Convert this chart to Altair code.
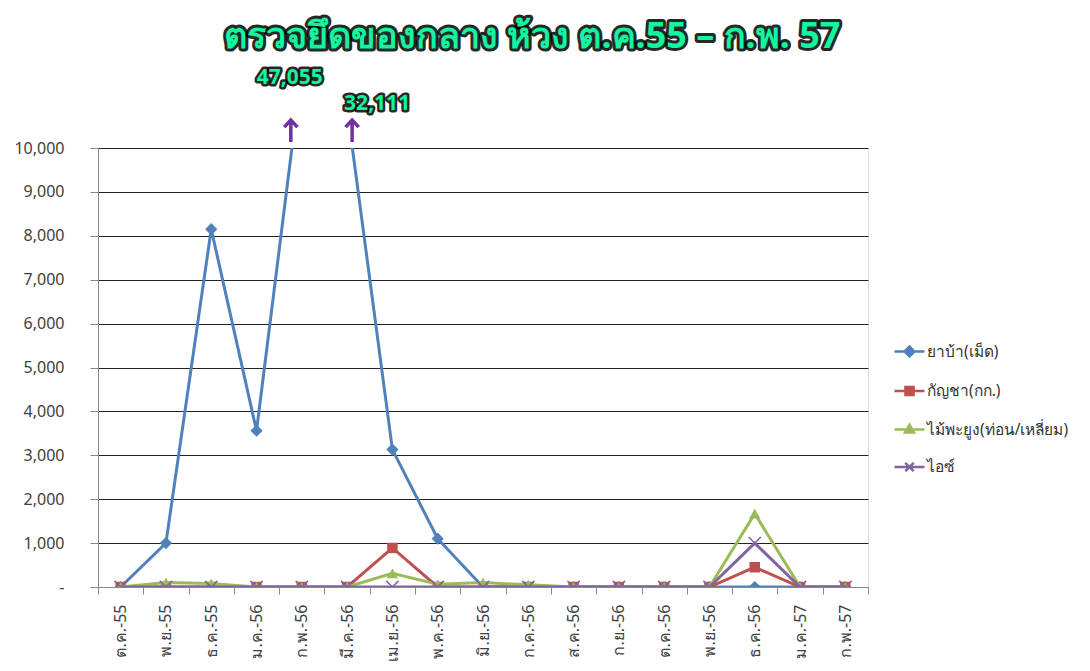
import altair as alt
import pandas as pd

months = ["ต.ค.-55", "พ.ย.-55", "ธ.ค.-55", "ม.ค.-56", "ก.พ.-56", "มี.ค.-56",
          "เม.ย.-56", "พ.ค.-56", "มิ.ย.-56", "ก.ค.-56", "ส.ค.-56", "ก.ย.-56",
          "ต.ค.-56", "พ.ย.-56", "ธ.ค.-56", "ม.ค.-57", "ก.พ.-57"]
series_names = ["ยาบ้า(เม็ด)", "กัญชา(กก.)", "ไม้พะยูง(ท่อน/เหลี่ยม)", "ไอซ์"]
# values as drawn in the picture (the two off-scale peaks are drawn capped; real values are annotated)
yaba = [0, 1000, 8150, 3560, 11800, 10900, 3130, 1100, 0, 0, 0, 0, 0, 0, 0, 0, 0]
kancha = [0, 0, 0, 0, 0, 0, 890, 0, 0, 0, 0, 0, 0, 0, 450, 0, 0]
payung = [0, 100, 80, 0, 0, 0, 310, 60, 100, 50, 0, 0, 0, 0, 1670, 0, 0]
ice = [0, 0, 0, 0, 0, 0, 0, 0, 0, 0, 0, 0, 0, 0, 1000, 0, 0]
colors = ["#4F81BD", "#C0504D", "#9BBB59", "#8064A2"]
ann_months = ["ก.พ.-56", "มี.ค.-56"]
ann_labels = ["47,055", "32,111"]
title_text = "ตรวจยึดของกลาง ห้วง ต.ค.55 – ก.พ. 57"
y_ticks = [0, 1000, 2000, 3000, 4000, 5000, 6000, 7000, 8000, 9000, 10000]

FONT = "Noto Sans"
GREEN = "#14F5A0"
W, H = 770, 439

series_values = [yaba, kancha, payung, ice]
marker_shapes = ["diamond", "square", "triangle-up", "M-1,-1L1,1M-1,1L1,-1"]
marker_sizes = [150, 110, 130, 150]
legend_paths = [
    "M-1,0L1,0M0,-0.33L0.33,0L0,0.33L-0.33,0Z",
    "M-1,0L1,0M-0.27,-0.27L0.27,-0.27L0.27,0.27L-0.27,0.27Z",
    "M-1,0L1,0M0,-0.32L0.3,0.2L-0.3,0.2Z",
    "M-1,0L1,0M-0.28,-0.28L0.28,0.28M-0.28,0.28L0.28,-0.28",
]

x_enc = alt.X(
    "month:N", sort=months,
    scale=alt.Scale(type="band", domain=months, paddingInner=0, paddingOuter=0),
    axis=alt.Axis(title=None, labelAngle=270, labelFont=FONT, labelFontSize=16,
                  labelColor="#404040", tickBand="extent", tickSize=7,
                  tickColor="#888888", domainColor="#888888", labelPadding=10,
                  grid=False, labelOverlap=False),
)
y_enc = alt.Y(
    "value:Q", scale=alt.Scale(domain=[0, 10000], nice=False),
    axis=alt.Axis(title=None, values=y_ticks, grid=True, gridColor="#222222",
                  gridWidth=1, tickColor="#888888", tickSize=8, domainColor="#888888",
                  labelPadding=26, labelFont=FONT, labelFontSize=16, labelColor="#404040",
                  labelExpr="datum.value == 0 ? '-\u00a0\u00a0\u00a0\u00a0' : format(datum.value, ',')"),
)

layers = []
for name, vals, col, shp, sz in zip(series_names, series_values, colors, marker_shapes, marker_sizes):
    df = pd.DataFrame({"month": months, "value": vals, "series": name})
    base = alt.Chart(df).encode(x=x_enc, y=y_enc)
    layers.append(base.mark_line(color=col, strokeWidth=3, clip=True))
    if shp.startswith("M"):
        layers.append(base.mark_point(shape=shp, size=sz, filled=False, color=col,
                                      strokeWidth=1.5, opacity=1, clip=True))
    else:
        layers.append(base.mark_point(shape=shp, size=sz, filled=True, color=col,
                                      opacity=1, clip=True))

# annotations for off-scale peaks
arrow_path = "M0,1L0,-1M-0.6,-0.35L0,-1L0.6,-0.35"
arrow_dx = [-11, 5]
label_dx = [-12, 30]
label_dy = [-70, -44]
for m, lab, adx, ldx, ldy in zip(ann_months, ann_labels, arrow_dx, label_dx, label_dy):
    adf = pd.DataFrame({"month": [m], "value": [10000], "label": [lab]})
    ab = alt.Chart(adf).encode(x=x_enc, y=y_enc)
    layers.append(ab.mark_point(shape=arrow_path, size=484, filled=False, stroke="#7030A0",
                                strokeWidth=3.5, opacity=1, xOffset=adx, yOffset=-17,
                                strokeCap="butt", strokeJoin="miter"))
    layers.append(ab.mark_text(font=FONT, fontSize=21, fontWeight="bold", stroke="#000000",
                               strokeWidth=5, strokeJoin="round", strokeOpacity=0.85,
                               fill="#000000", dx=ldx, dy=ldy).encode(text="label:N"))
    layers.append(ab.mark_text(font=FONT, fontSize=21, fontWeight="bold", fill=GREEN,
                               dx=ldx, dy=ldy).encode(text="label:N"))

# title with dark glow
tdf = pd.DataFrame({"t": [title_text]})
tb = alt.Chart(tdf).encode(text="t:N", x=alt.value(434), y=alt.value(-100))
layers.append(tb.mark_text(font=FONT, fontSize=36, fontWeight="bold", stroke="#000000",
                           strokeWidth=6, strokeJoin="round", strokeOpacity=0.85,
                           fill="#000000", baseline="alphabetic"))
layers.append(tb.mark_text(font=FONT, fontSize=36, fontWeight="bold", fill=GREEN,
                           baseline="alphabetic"))

# legend carrier layer (no visible marks)
ldf = pd.DataFrame({"series": series_names})
leg = alt.Legend(title=None, orient="none", legendX=795, legendY=187, symbolSize=900,
                 symbolStrokeWidth=2.5, symbolOpacity=1, labelFont=FONT, labelFontSize=15.5,
                 labelColor="#333333", rowPadding=12.5, labelOffset=1, labelLimit=300)
legend_layer = alt.Chart(ldf).transform_filter("false").mark_point(filled=True).encode(
    fill=alt.Fill("series:N", scale=alt.Scale(domain=series_names, range=colors), legend=leg),
    stroke=alt.Stroke("series:N", scale=alt.Scale(domain=series_names, range=colors), legend=leg),
    shape=alt.Shape("series:N", scale=alt.Scale(domain=series_names, range=legend_paths), legend=leg),
)
layers.append(legend_layer)

chart = alt.layer(*layers).properties(
    width=W, height=H,
    autosize=alt.AutoSizeParams(type="none"),
    padding={"left": 90, "top": 140, "right": 214, "bottom": 76},
).configure_view(stroke=None).configure(background="white")

chart.save("out.html", embed_options={"renderer": "svg", "actions": False})
